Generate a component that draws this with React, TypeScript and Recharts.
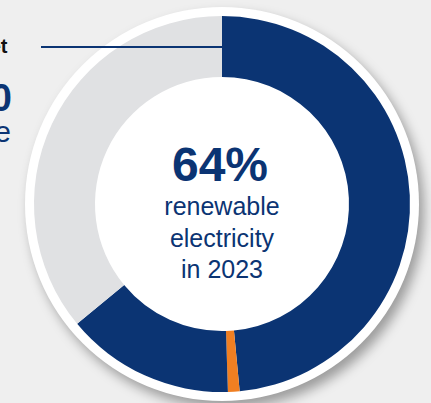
import { PieChart, Pie, Cell } from 'recharts'

// share of electricity, clockwise from 12 o'clock
const sliceNames = ['Renewable', 'Marker', 'Renewable ', 'Non-renewable']
const sliceValues = [48.5, 1, 14.5, 36]
const sliceColors = ['#0b3473', '#f07f22', '#0b3473', '#e0e1e3']

const centerLines = ['renewable', 'electricity', 'in 2023']
const headline = '64%'

const data = sliceNames.map((name, i) => ({ name, value: sliceValues[i] }))

const FONT = '"Liberation Sans", Arial, sans-serif'
const BLUE = '#0b3473'
const CX = 222
const CY = 204

export default function App() {
    return (
        <div
            style={{
                position: 'fixed',
                left: 0,
                top: 0,
                width: 431,
                height: 403,
                overflow: 'hidden',
                background: '#efefef',
                fontFamily: FONT,
            }}
        >
            <div
                style={{
                    position: 'absolute',
                    left: CX - 197,
                    top: CY - 197,
                    width: 394,
                    height: 394,
                    borderRadius: '50%',
                    background: '#fff',
                    boxShadow: '5px 7px 12px rgba(0,0,0,0.35)',
                }}
            />
            <div style={{ position: 'absolute', left: 0, top: 0 }}>
                <PieChart width={431} height={403} margin={{ top: 0, right: 0, bottom: 0, left: 0 }}>
                    <Pie
                        data={data}
                        dataKey='value'
                        nameKey='name'
                        cx={CX}
                        cy={CY}
                        innerRadius={127}
                        outerRadius={188}
                        startAngle={90}
                        endAngle={-270}
                        stroke='none'
                        isAnimationActive={false}
                    >
                        {data.map((d, i) => (
                            <Cell key={i} fill={sliceColors[i]} />
                        ))}
                    </Pie>
                </PieChart>
            </div>
            <svg
                width={431}
                height={403}
                style={{ position: 'absolute', left: 0, top: 0 }}
                fontFamily={FONT}
            >
                <line x1={41} y1={47} x2={222} y2={47} stroke={BLUE} strokeWidth={2} />
                <text x={7.5} y={53} textAnchor='end' fontSize={20} fontWeight={700} fill='#111'>
                    2030 target
                </text>
                <text x={12} y={111} textAnchor='end' fontSize={38} fontWeight={700} fill={BLUE}>
                    2030
                </text>
                <text x={11} y={142} textAnchor='end' fontSize={29} fill={BLUE}>
                    renewable
                </text>
                <text x={220} y={181} textAnchor='middle' fontSize={48} fontWeight={700} fill={BLUE}>
                    {headline}
                </text>
                {centerLines.map((t, i) => (
                    <text
                        key={t}
                        x={222}
                        y={215 + i * 31.5}
                        textAnchor='middle'
                        fontSize={25}
                        fill={BLUE}
                    >
                        {t}
                    </text>
                ))}
            </svg>
        </div>
    )
}
